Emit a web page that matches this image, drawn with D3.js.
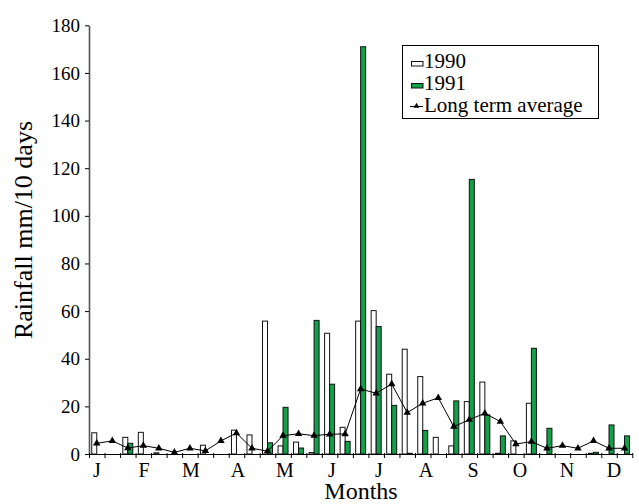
<!DOCTYPE html>
<html>
<head>
<meta charset="utf-8">
<script src="https://cdn.jsdelivr.net/npm/d3@7"></script>
<style>
  body { margin: 0; background: #fff; }
  text { font-family: "Liberation Serif", "Times New Roman", serif; fill: #000; }
</style>
</head>
<body>
<svg id="main" width="639" height="504"></svg>
<script>
// dekads (10-day periods), Jan to Dec
const dekads = [
  "J1","J2","J3","F1","F2","F3","M1","M2","M3","A1","A2","A3",
  "My1","My2","My3","Jn1","Jn2","Jn3","Jl1","Jl2","Jl3","Au1","Au2","Au3",
  "S1","S2","S3","O1","O2","O3","N1","N2","N3","D1","D2"
];
const months = ["Jan","Feb","Mar","Apr","May","Jun","Jul","Aug","Sep","Oct","Nov","Dec"];
const monthLabels = ["J","F","M","A","M","J","J","A","S","O","N","D"];
const series = ["1990", "1991"];

const rain1990 = [8.9, 0, 7.0, 9.1, 0.5, 0, 0, 3.7, 0, 10.0, 8.0, 55.8,
  3.4, 5.0, 0.6, 50.7, 11.2, 55.8, 60.2, 33.5, 44.0, 32.5, 7.0, 3.4,
  22.0, 30.2, 0.3, 5.5, 21.3, 0, 0, 0, 0.3, 0, 0];
const rain1991 = [0, 0, 4.5, 0, 0, 0, 0, 0, 0, 0, 0, 4.7,
  19.6, 2.5, 56.1, 29.3, 5.3, 171.0, 53.5, 20.4, 0.3, 9.9, 0, 22.3,
  115.3, 16.4, 7.6, 0, 44.4, 10.8, 0, 0, 0.7, 12.2, 7.6];
const longTerm = [4.5, 5.5, 2.5, 3.5, 2.4, 0.7, 2.4, 1.3, 5.5, 8.8, 2.4, 1.2,
  7.7, 8.5, 7.7, 8.3, 8.4, 27.3, 25.5, 29.4, 17.4, 21.3, 23.6, 11.5,
  14.4, 17.1, 13.6, 4.2, 5.2, 2.4, 3.5, 2.4, 5.5, 2.4, 2.4];
const yTicks = [0, 20, 40, 60, 80, 100, 120, 140, 160, 180];

const green = "#13a04b";

/////////////////////////////////////////////////////////

const svg = d3.select("#main");

const x = d3.scaleBand()
  .domain(dekads)
  .range([89, 632.3])
  .padding(0);

// two bars side by side in the middle of each dekad
const xSub = d3.scaleBand()
  .domain(series)
  .range([0, x.bandwidth()])
  .paddingInner(0)
  .paddingOuter(0.552);

const y = d3.scaleLinear()
  .domain([0, 180])
  .range([454, 25.3]);

// y axis
svg.append("g")
  .attr("transform", "translate(89,0)")
  .call(d3.axisLeft(y).tickValues(yTicks).tickSize(4).tickSizeOuter(0))
  .call(g => g.select(".domain").attr("stroke", "#555").attr("stroke-width", 1.6))
  .call(g => g.selectAll(".tick line").attr("stroke", "#000"))
  .call(g => g.selectAll(".tick text")
    .attr("x", -9)
    .style("font-size", "19px")
    .style("font-family", "Liberation Serif"));

// bars
const rows = dekads.map((d, i) => ({ dekad: d, values: [rain1990[i], rain1991[i]] }));

svg.append("g")
  .selectAll(".dekad")
  .data(rows)
  .enter()
  .append("g")
  .classed("dekad", true)
  .attr("transform", d => `translate(${x(d.dekad)},0)`)
    .selectAll("rect")
    .data(d => d.values.map((v, j) => ({ key: series[j], v })).filter(e => e.v > 0))
    .enter()
    .append("rect")
    .attr("x", d => xSub(d.key))
    .attr("width", xSub.bandwidth())
    .attr("y", d => y(d.v))
    .attr("height", d => y(0) - y(d.v))
    .attr("fill", d => d.key === "1990" ? "#fff" : green)
    .attr("stroke", "#111")
    .attr("stroke-width", 1);

// x axis: ticks at dekad boundaries
const xTick = d3.scaleLinear().domain([0, dekads.length]).range(x.range());
svg.append("g")
  .attr("transform", "translate(0,454)")
  .call(d3.axisBottom(xTick).tickValues(d3.range(0, dekads.length + 1)).tickSize(4).tickSizeOuter(0).tickFormat(""))
  .call(g => g.select(".domain").attr("stroke", "#000"))
  .call(g => g.selectAll(".tick line").attr("stroke", "#000").attr("y1", -1));

// month labels
const xMonth = d3.scalePoint().domain(months).range([97, 614]);
svg.append("g")
  .selectAll(".month")
  .data(months)
  .enter()
  .append("text")
  .classed("month", true)
  .attr("x", d => xMonth(d))
  .attr("y", 477)
  .attr("text-anchor", "middle")
  .style("font-size", "20px")
  .text((d, i) => monthLabels[i]);

// long term average line
const cx = d => x(d) + x.bandwidth() / 2;
const line = d3.line()
  .x((d, i) => cx(dekads[i]))
  .y(d => y(d));

svg.append("path")
  .datum(longTerm)
  .attr("d", line)
  .attr("fill", "none")
  .attr("stroke", "#000")
  .attr("stroke-width", 1);

svg.append("g")
  .selectAll(".mark")
  .data(longTerm)
  .enter()
  .append("path")
  .classed("mark", true)
  .attr("transform", (d, i) => `translate(${cx(dekads[i])},${y(d)})`)
  .attr("d", d3.symbol(d3.symbolTriangle).size(24))
  .attr("fill", "#000");

// axis titles
svg.append("text")
  .attr("transform", "translate(32,230) rotate(-90)")
  .attr("text-anchor", "middle")
  .style("font-size", "26px")
  .text("Rainfall mm/10 days");

svg.append("text")
  .attr("x", 361)
  .attr("y", 499)
  .attr("text-anchor", "middle")
  .style("font-size", "24px")
  .text("Months");

// legend
const legend = svg.append("g");
legend.append("rect")
  .attr("x", 402.5).attr("y", 45.5)
  .attr("width", 196).attr("height", 73)
  .attr("fill", "#fff").attr("stroke", "#000");

const legendItems = [
  { label: "1990", type: "bar", fill: "#fff" },
  { label: "1991", type: "bar", fill: green },
  { label: "Long term average", type: "line" }
];
const legendY = d3.scalePoint().domain(legendItems.map(d => d.label)).range([68, 112]);

legendItems.forEach(item => {
  const by = legendY(item.label);
  if (item.type === "bar") {
    legend.append("rect")
      .attr("x", 411.5).attr("y", by - 6.5)
      .attr("width", 11.5).attr("height", 4.5)
      .attr("fill", item.fill).attr("stroke", "#111");
  } else {
    legend.append("line")
      .attr("x1", 410).attr("x2", 423)
      .attr("y1", by - 5.5).attr("y2", by - 5.5)
      .attr("stroke", "#000");
    legend.append("path")
      .attr("transform", `translate(416.5,${by - 6})`)
      .attr("d", d3.symbol(d3.symbolTriangle).size(14))
      .attr("fill", "#000");
  }
  legend.append("text")
    .attr("x", 424)
    .attr("y", by)
    .style("font-size", "21px")
    .text(item.label);
});
</script>
</body>
</html>
